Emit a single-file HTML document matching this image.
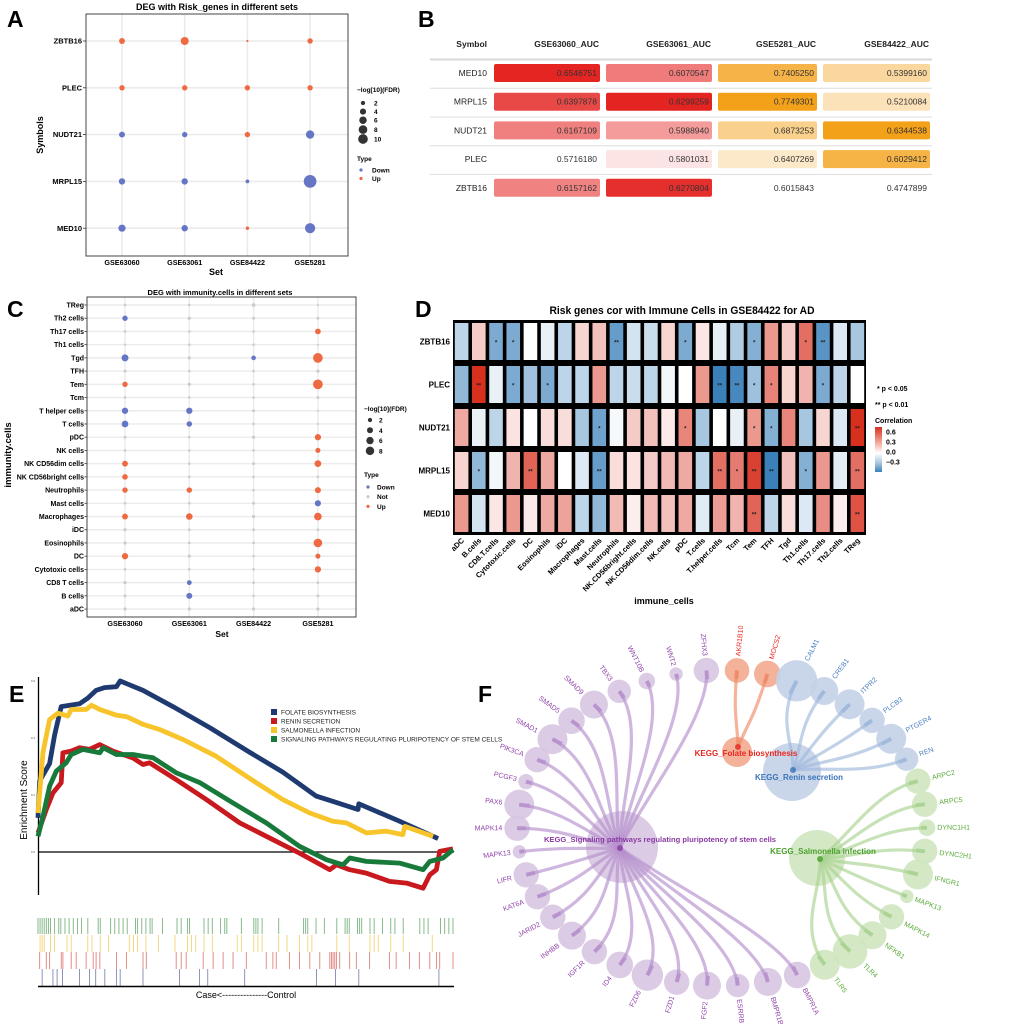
<!DOCTYPE html>
<html><head><meta charset="utf-8"><style>
html,body{margin:0;padding:0;background:#fff;}
svg{display:block;font-family:"Liberation Sans",Arial,sans-serif;}
.b{font-weight:bold;}
</style></head><body>
<svg id="fig" width="1020" height="1024" viewBox="0 0 1020 1024" xmlns="http://www.w3.org/2000/svg">
<rect width="1020" height="1024" fill="#fff"/>
<text x="7" y="27" font-size="23" class="b">A</text>
<text x="418" y="27" font-size="23" class="b">B</text>
<text x="7" y="317" font-size="23" class="b">C</text>
<text x="415" y="317" font-size="23" class="b">D</text>
<text x="9" y="702" font-size="23" class="b">E</text>
<text x="478" y="702" font-size="23" class="b">F</text>

<g id="pa">
<text x="217" y="10" font-size="9" class="b" text-anchor="middle">DEG with Risk_genes in different sets</text>
<text x="216" y="275" font-size="9" class="b" text-anchor="middle">Set</text>
<text transform="translate(43,135) rotate(-90)" font-size="9" class="b" text-anchor="middle">Symbols</text>
<text x="357" y="92" font-size="6.5" class="b">−log[10](FDR)</text>
<text x="357" y="161" font-size="6.5" class="b">Type</text>
</g>
<g id="pb"></g>
<g id="pc">
<text x="220" y="295" font-size="7.5" class="b" text-anchor="middle">DEG with immunity.cells in different sets</text>
<text x="222" y="637" font-size="8.5" class="b" text-anchor="middle">Set</text>
<text transform="translate(11,455) rotate(-90)" font-size="9.5" class="b" text-anchor="middle">immunity.cells</text>
<text x="364" y="411" font-size="6.5" class="b">−log[10](FDR)</text>
<text x="364" y="477" font-size="6.5" class="b">Type</text>
</g>
<g id="pd">
<text x="682" y="314" font-size="11" class="b" text-anchor="middle" textLength="265" lengthAdjust="spacingAndGlyphs">Risk genes cor with Immune Cells in GSE84422 for AD</text>
<text x="664" y="604" font-size="9" class="b" text-anchor="middle">immune_cells</text>
<text x="877" y="391" font-size="7" class="b">* p &lt; 0.05</text>
<text x="875" y="407" font-size="7" class="b">** p &lt; 0.01</text>
<text x="875" y="423" font-size="7" class="b">Correlation</text>
</g>
<g id="pe">
<text transform="translate(27,800) rotate(-90)" font-size="10" text-anchor="middle">Enrichment Score</text>
<text x="246" y="998" font-size="9" text-anchor="middle">Case&lt;---------------Control</text>
</g>
<g id="pf"></g>
</svg>
<script>
const NS='http://www.w3.org/2000/svg';
function mk(tag,attrs,parent){const e=document.createElementNS(NS,tag);for(const k in attrs)e.setAttribute(k,attrs[k]);parent.appendChild(e);return e;}
function tx(str,attrs,parent){const e=mk('text',attrs,parent);e.textContent=str;return e;}
function hex(c){return [parseInt(c.slice(1,3),16),parseInt(c.slice(3,5),16),parseInt(c.slice(5,7),16)];}
function mix(a,b,t){t=Math.max(0,Math.min(1,t));const A=hex(a),B=hex(b);return 'rgb('+A.map((v,i)=>Math.round(v+(B[i]-v)*t)).join(',')+')';}
const UP='#ee6a43',DOWN='#6576c4',NOT='#cccccc';

const aGenes=['ZBTB16','PLEC','NUDT21','MRPL15','MED10'];
const aSets=['GSE63060','GSE63061','GSE84422','GSE5281'];
const aValues=[[3,5.5,0.4,2.5],[2.5,2.5,2.5,2.5],[3,2.5,2.5,6],[3.5,3.5,1.2,14],[4.5,3.5,1,9]];
const aTypes=[['Up','Up','Up','Up'],['Up','Up','Up','Up'],['Down','Down','Up','Down'],['Down','Down','Down','Down'],['Down','Down','Up','Down']];
const aSizeLegend=[2,4,6,8,10];

const bGenes=['MED10','MRPL15','NUDT21','PLEC','ZBTB16'];
const bCols=['GSE63060_AUC','GSE63061_AUC','GSE5281_AUC','GSE84422_AUC'];
const bValues=[[0.6546751,0.6070547,0.7405250,0.5399160],[0.6397878,0.6299259,0.7749301,0.5210084],[0.6167109,0.5988940,0.6873253,0.6344538],[0.5716180,0.5801031,0.6407269,0.6029412],[0.6157162,0.6270804,0.6015843,0.4747899]];

const cCells=['TReg','Th2 cells','Th17 cells','Th1 cells','Tgd','TFH','Tem','Tcm','T helper cells','T cells','pDC','NK cells','NK CD56dim cells','NK CD56bright cells','Neutrophils','Mast cells','Macrophages','iDC','Eosinophils','DC','Cytotoxic cells','CD8 T cells','B cells','aDC'];
const cSets=['GSE63060','GSE63061','GSE84422','GSE5281'];
const cTypes=['NNNN','DNNN','NNNU','NNNN','DNDU','NNNN','UNNU','NNNN','DDNN','DDNN','NNNU','NNNU','UNNU','UNNN','UUNU','NNND','UUNU','NNNN','NNNU','UNNU','NNNU','NDNN','NDNN','NNNN'];
const cValues=[[0.8,0.8,1.6,0.5],[3.2,1.2,1,1],[0.8,0.8,0.8,3.6],[0.6,0.8,0.8,0.5],[5.4,1.2,2.4,10.5],[1,0.8,0.8,1.2],[3.2,1.2,0.8,10.5],[0.8,0.8,0.8,1],[4.4,4.4,1,0.5],[5,3.4,0.8,0.5],[1,0.8,1.2,4.4],[0.8,0.8,0.8,2.8],[3.8,0.8,1,5],[3.4,0.8,0.8,0.8],[3.2,3.4,0.8,4],[0.8,0.8,1,4.2],[3.8,4.8,1.2,6.5],[1.2,0.8,0.8,0.8],[1.2,0.8,0.8,8.2],[4.4,1.2,0.8,2.8],[0.8,0.8,0.8,4.4],[1.2,2.6,0.8,0.8],[1,4,0.8,1],[1.2,1.2,1.2,1.2]];
const cSizeLegend=[2,4,6,8];

const dGenes=['ZBTB16','PLEC','NUDT21','MRPL15','MED10'];
const dCells=['aDC','B.cells','CD8.T.cells','Cytotoxic.cells','DC','Eosinophils','iDC','Macrophages','Mast.cells','Neutrophils','NK.CD56bright.cells','NK.CD56dim.cells','NK.cells','pDC','T.cells','T.helper.cells','Tcm','Tem','TFH','Tgd','Th1.cells','Th17.cells','Th2.cells','TReg'];
const dCor=[
[-0.15,0.15,-0.3,-0.3,0,-0.05,-0.15,0.12,0.18,-0.35,-0.1,-0.12,0.12,-0.3,0.07,-0.05,-0.18,-0.28,0.3,0.15,0.42,-0.38,-0.08,-0.2],
[-0.25,0.6,-0.05,-0.3,-0.22,-0.3,-0.15,-0.15,0.3,-0.15,-0.12,-0.15,-0.03,0,0.3,-0.45,-0.42,-0.22,0.36,0.12,0.22,-0.3,-0.15,0],
[0.25,-0.05,-0.15,0.08,0,0.1,0.1,-0.2,-0.33,-0.02,0.15,0.18,0.06,0.35,-0.2,0,-0.05,0.3,-0.28,0.35,-0.2,0.12,-0.08,0.6],
[0.12,-0.25,-0.03,0.22,0.45,0.25,0,-0.08,-0.35,0.1,0.08,0.15,0.2,0.25,-0.15,0.42,0.38,0.55,-0.45,0.18,-0.28,0.3,-0.06,0.42],
[0.3,-0.1,0.07,0.3,0.06,0.25,0.27,-0.15,-0.25,0.2,0.05,0.2,0.18,0.25,-0.07,0.28,0.22,0.45,-0.15,0.1,-0.08,0.33,0.05,0.5]];
const dSig=[
['','','*','*','','','','','','**','','','','*','','','','*','','','*','**','',''],
['','**','','*','','*','','','','','','','','','','**','**','*','*','','','*','',''],
['','','','','','','','','*','','','','','*','','','','*','*','','','','','**'],
['','*','','','**','','','','**','','','','','','','**','*','**','**','','*','','','**'],
['','','','','','','','','','','','','','','','','','**','','','','','','**']];
const dLegendTicks=[0.6,0.3,0.0,-0.3];

const eNames=['FOLATE BIOSYNTHESIS','RENIN SECRETION','SALMONELLA INFECTION','SIGNALING PATHWAYS REGULATING PLURIPOTENCY OF STEM CELLS'];
const eRankBlue=[0,0.4,2.8,4,5.6,10,12,14,16,18.9,19.8,25.3,32.5,41.4,51,59,67,71,77.1,77.3,87.1,96.4];
const eEsBlue=[0.12,0.25,0.31,0.41,0.51,0.52,0.54,0.567,0.577,0.58,0.6,0.567,0.51,0.436,0.35,0.28,0.196,0.178,0.149,0.169,0.108,0.047];
const eRankYellow=[0,1.2,2.8,4.8,7.2,8,11.6,12.9,14.9,18.9,21.3,25.3,29.3,34.9,42.9,52.6,59,65.5,71,74.3,79.1,83.9,87.9,88.4,95.2];
const eEsYellow=[0.137,0.35,0.465,0.487,0.477,0.5,0.5,0.515,0.5,0.48,0.475,0.448,0.43,0.395,0.336,0.243,0.184,0.137,0.108,0.102,0.067,0.073,0.061,0.09,0.055];
const eRankRed=[0,2,3.6,5.6,6,8,10,12.4,14.9,18.1,22.9,25.3,26.9,33.3,40.6,48.6,55,63,70.3,71.9,75.1,79.1,84.7,88.8,92.8,94.4,96,96.8,100];
const eEsRed=[0.067,0.149,0.207,0.243,0.348,0.354,0.366,0.36,0.377,0.354,0.33,0.307,0.313,0.254,0.184,0.102,0.055,-0.004,-0.062,-0.045,-0.062,-0.074,-0.103,-0.109,-0.127,-0.08,-0.062,0.002,0.011];
const eRankGreen=[0,1.2,2.8,4.4,6.8,8,10.8,14.9,15.7,18.9,22.9,25.3,27.7,33.3,39,47,55,63,69.5,73.5,75.1,79.1,87.1,92.8,94.4,97.6,100];
const eEsGreen=[0.055,0.125,0.231,0.284,0.313,0.342,0.36,0.348,0.366,0.342,0.342,0.336,0.331,0.278,0.243,0.172,0.102,0.02,-0.027,-0.045,-0.021,-0.033,-0.039,-0.062,-0.033,-0.021,0.008];
const eHitsGreen=[0,0.5,1,1.5,2,2.5,3,4,5,5.5,6.5,7.5,8.5,9.5,10.5,12,14.5,15,17.5,18.5,19.5,20.5,21.5,23.5,24,25,26,27,27.5,30,33.5,34.5,36,36.5,40,41,42,44,45,45.5,49,52,52.5,53,54,58,64,64.5,65,67,69,72,74,74.5,75,77,77.5,78,80,81,83,85,86,88,92,93,94,97,98,99,100];
const eHitsYellow=[0.5,1,1.5,3,4,7,8,12,13,15,17,22,23,24,26,29,33,36,37,38,40,42,48,49,52,53,54,58,60,63,65,66,72,75,80,81,82,85,88,95];
const eHitsRed=[0.4,2,2.8,5.6,6,8,9.2,11.6,13.3,14,14.9,18.9,21.3,25.3,26.1,33.3,34.5,35.7,39.8,42.2,44.6,47,50.2,55,56.6,57.4,60.6,63,65.5,67.9,70.3,70.7,71.1,71.5,71.9,72.7,75.1,76.7,79.9,84.7,86.3,89.5,91.9,94.4,96,96.8,100];
const eHitsBlue=[1,3.6,4.6,5.9,10,12.4,13.9,16.1,18.9,19.8,25.3,34.1,38.9,40.9,49.8,67.1,71.7,77.3,96.6];
const eYTicks=[0.6,0.4,0.2,0.0];

const fGenes=['AKR1B10','MOCS2','CALM1','CREB1','ITPR2','PLCB3','PTGER4','REN','ARPC2','ARPC5','DYNC1H1','DYNC2H1','IFNGR1','MAPK13','MAPK14','NFKB1','TLR4','TLR5','BMPR1A','BMPR1B','ESRRB','FGF2','FZD1','FZD6','ID4','IGF1R','INHBB','JARID2','KAT6A','LIFR','MAPK13','MAPK14','PAX6','PCGF3','PIK3CA','SMAD1','SMAD5','SMAD9','TBX3','WNT10B','WNT2','ZFHX3'];
const fGroup=['fol','fol','ren','ren','ren','ren','ren','ren','sal','sal','sal','sal','sal','sal','sal','sal','sal','sal','sig','sig','sig','sig','sig','sig','sig','sig','sig','sig','sig','sig','sig','sig','sig','sig','sig','sig','sig','sig','sig','sig','sig','sig'];
const fSize=[12.3,13.3,20.7,14,15,12.7,15,11.7,12.7,12.7,8.3,12.7,15,6.7,12.7,14,17.3,15,13.3,14,11.7,14,12.7,15.7,13.3,12.7,14,12.7,12.7,12.7,6.7,12.7,15,7.7,12.7,15,13.3,14,11.7,8.3,6.7,12.7];
const fHubs=[
 {id:'sig',label:'KEGG_Signaling pathways regulating pluripotency of stem cells',x:622,y:847,r:36,fx:620,fy:848,lx:660,ly:842},
 {id:'fol',label:'KEGG_Folate biosynthesis',x:737,y:752,r:15,fx:738,fy:747,lx:746,ly:756},
 {id:'ren',label:'KEGG_Renin secretion',x:792,y:772,r:29,fx:793,fy:770,lx:799,ly:780},
 {id:'sal',label:'KEGG_Salmonella infection',x:817,y:858,r:28,fx:820,fy:859,lx:823,ly:854}];
const fColor={sig:{fill:'#d7c5e2',edge:'#b68fcc',text:'#9144ab',hub:'#8a3aa2'},fol:{fill:'#f2aa8e',edge:'#ef8a66',text:'#e8271f',hub:'#e8271f'},ren:{fill:'#c3d2e8',edge:'#9fb8dc',text:'#4a7fc2',hub:'#3a74b8'},sal:{fill:'#cfe5c0',edge:'#a9d391',text:'#5aab3a',hub:'#4aa02c'}};

(function(){
 const g=document.getElementById('pa');
 const x=i=>122+i*62.7, y=j=>41+j*46.8, r=v=>1.7*Math.sqrt(v);
 const box={x:86,y:14,w:262,h:242};
 aSets.forEach((s,i)=>{const l=mk('line',{x1:x(i),x2:x(i),y1:box.y,y2:box.y+box.h,stroke:'#ebebeb','stroke-width':1.6},g);
  
  
  const t=tx(s,{x:x(i),y:265,'font-size':7.2,'font-weight':'bold','text-anchor':'middle'},g);
  
  });
 aGenes.forEach((s,j)=>{const l=mk('line',{x1:box.x,x2:box.x+box.w,y1:y(j),y2:y(j),stroke:'#ebebeb','stroke-width':1.6},g);
  
  
  const tk=mk('line',{x1:box.x-3,x2:box.x,y1:y(j),y2:y(j),stroke:'#333','stroke-width':0.8},g);
  
  
  const t=tx(s,{x:box.x-4,y:y(j)+2.6,'font-size':7.5,'font-weight':'bold','text-anchor':'end'},g);
  
  });
 const fr=mk('rect',{x:box.x,y:box.y,width:box.w,height:box.h,fill:'none',stroke:'#444','stroke-width':1},g);
 
 
 aValues.forEach((row,j)=>row.forEach((v,i)=>{
  const c=mk('circle',{cx:x(i),cy:y(j),r:r(v),fill:aTypes[j][i]==='Up'?UP:DOWN},g);
  
  }));
 aSizeLegend.forEach((v,k)=>{const cy=103+k*8.6+(k>2?(k-2)*0.8:0);
  const c=mk('circle',{cx:363,cy:cy,r:r(v)*0.9,fill:'#333'},g);
  
  
  const t=tx(String(v),{x:374,y:cy+2.5,'font-size':6.5,'font-weight':'bold'},g);
  
  });
 [['Down',DOWN],['Up',UP]].forEach((d,k)=>{const cy=170+k*8.5;
  const c=mk('circle',{cx:361,cy:cy,r:1.6,fill:d[1]},g);
  
  
  const t=tx(d[0],{x:372,y:cy+2.4,'font-size':6.5,'font-weight':'bold'},g);
  
  });
})();

(function(){
 const g=document.getElementById('pb');
 const lefts=[494,606,718,823], rights=[600,712,817,930];
 const full=['#e42421','#e42421','#f4a11a','#f4a11a'];
 const lo=[0.575,0.58,0.62,0.49], hi=[0.655,0.63,0.775,0.6345];
 const rowY=j=>73+j*28.7;
 const h=tx('Symbol',{x:487,y:47,'font-size':8.5,'font-weight':'bold','text-anchor':'end',fill:'#222'},g);
 
 
 bCols.forEach((c,i)=>{const t=tx(c,{x:rights[i]-1,y:47,'font-size':8.5,'font-weight':'bold','text-anchor':'end',fill:'#222'},g);
  
  });
 const hl=mk('line',{x1:430,x2:932,y1:59.5,y2:59.5,stroke:'#d8d8d8','stroke-width':2},g);
 
 
 bGenes.forEach((gn,j)=>{
  const cy=rowY(j);
  if(j<bGenes.length-1){const l=mk('line',{x1:430,x2:932,y1:cy+15.3,y2:cy+15.3,stroke:'#dddddd','stroke-width':1},g);
   
   }
  const t=tx(gn,{x:487,y:cy+3,'font-size':8.5,'text-anchor':'end',fill:'#222'},g);
  
  
  bValues[j].forEach((v,i)=>{
   const tt=(v-lo[i])/(hi[i]-lo[i]);
   if(tt>0){const rc=mk('rect',{x:lefts[i],y:cy-9,width:rights[i]-lefts[i],height:18,rx:2,fill:mix('#ffffff',full[i],0.12+0.88*tt)},g);
    
    }
   const vt=tx(v.toFixed(7),{x:rights[i]-3,y:cy+3,'font-size':8.5,'text-anchor':'end',fill:'#333'},g);
   
   });
 });
})();

(function(){
 const g=document.getElementById('pc');
 const box={x:87,y:297,w:269,h:320};
 const x=i=>125+i*64.3, y=j=>305+j*13.22, r=v=>1.5*Math.sqrt(v);
 cSets.forEach((s,i)=>{const l=mk('line',{x1:x(i),x2:x(i),y1:box.y,y2:box.y+box.h,stroke:'#ebebeb','stroke-width':1.4},g);
  
  
  const t=tx(s,{x:x(i),y:626,'font-size':7.2,'font-weight':'bold','text-anchor':'middle'},g);
  
  });
 cCells.forEach((s,j)=>{const l=mk('line',{x1:box.x,x2:box.x+box.w,y1:y(j),y2:y(j),stroke:'#ebebeb','stroke-width':1.4},g);
  
  
  const tk=mk('line',{x1:box.x-2.5,x2:box.x,y1:y(j),y2:y(j),stroke:'#333','stroke-width':0.8},g);
  
  
  const t=tx(s,{x:box.x-3,y:y(j)+2.5,'font-size':7,'font-weight':'bold','text-anchor':'end'},g);
  
  });
 const fr=mk('rect',{x:box.x,y:box.y,width:box.w,height:box.h,fill:'none',stroke:'#444','stroke-width':1},g);
 
 
 cValues.forEach((row,j)=>row.forEach((v,i)=>{
  const ty=cTypes[j][i];
  const c=mk('circle',{cx:x(i),cy:y(j),r:r(v),fill:ty==='U'?UP:ty==='D'?DOWN:NOT},g);
  
  }));
 cSizeLegend.forEach((v,k)=>{const cy=420+k*10.3;
  const c=mk('circle',{cx:370,cy:cy,r:r(v),fill:'#333'},g);
  
  
  const t=tx(String(v),{x:379,y:cy+2.5,'font-size':6.5,'font-weight':'bold'},g);
  
  });
 [['Down',DOWN],['Not',NOT],['Up',UP]].forEach((d,k)=>{const cy=487+k*9.7;
  const c=mk('circle',{cx:368,cy:cy,r:1.6,fill:d[1]},g);
  
  
  const t=tx(d[0],{x:377,y:cy+2.4,'font-size':6.5,'font-weight':'bold'},g);
  
  });
})();

(function(){
 const g=document.getElementById('pd');
 const X0=453,Y0=320,W=413,H=215, cw=W/dCells.length, rh=H/dGenes.length;
 const col=v=>v>=0?mix('#ffffff','#d7301f',v/0.6):mix('#ffffff','#3a80b9',-v/0.45);
 const bg=mk('rect',{x:X0,y:Y0,width:W,height:H,fill:'#000'},g);
 
 
 dGenes.forEach((gn,j)=>{
  const t=tx(gn,{x:X0-3,y:Y0+j*rh+rh/2+3,'font-size':8,'font-weight':'bold','text-anchor':'end'},g);
  
  
  dCor[j].forEach((v,i)=>{
   const rc=mk('rect',{x:X0+i*cw+1.8,y:Y0+j*rh+3,width:cw-3.6,height:rh-6,fill:col(v)},g);
   
   
   if(dSig[j][i]){const s=tx(dSig[j][i],{x:X0+i*cw+cw/2,y:Y0+j*rh+rh/2+3,'font-size':6,'font-weight':'bold','text-anchor':'middle',fill:'#222'},g);
    
    }
  });
 });
 dCells.forEach((c,i)=>{
  const cx=X0+i*cw+cw/2+3;
  const t=tx(c,{x:cx,y:541,'font-size':7.5,'font-weight':'bold','text-anchor':'end',transform:'rotate(-45 '+cx+' 541)'},g);
  
  });
 const grad=mk('linearGradient',{id:'corgrad',x1:0,y1:0,x2:0,y2:1},g);
 [['0%','#d7301f'],['38%','#f4b6a6'],['58%','#ffffff'],['80%','#a8c6e0'],['100%','#3a80b9']].forEach(s=>{mk('stop',{offset:s[0],'stop-color':s[1]},grad);});
 const bar=mk('rect',{x:875,y:427,width:7,height:45,fill:'url(#corgrad)'},g);
 
 
 dLegendTicks.forEach(v=>{const yy=452-v*33;
  const t=tx((v<0?'−':'')+Math.abs(v).toFixed(1),{x:886,y:yy+2.5,'font-size':7,'font-weight':'bold'},g);
  
  });
})();

(function(){
 const g=document.getElementById('pe');
 const x=p=>38+p*4.15, y=es=>852-es*285;
 const ax=mk('line',{x1:38.5,x2:38.5,y1:677,y2:895,stroke:'#000','stroke-width':1.3},g);
 
 
 eYTicks.forEach(v=>{const t=tx(v.toFixed(1),{x:35,y:y(v)+1,'font-size':3,'text-anchor':'end',fill:'#555'},g);
  
  });
 const zl=mk('line',{x1:38,x2:454,y1:y(0),y2:y(0),stroke:'#000','stroke-width':1.2},g);
 
 
 const series=[[eRankBlue,eEsBlue,'#1f3a70','folate'],[eRankYellow,eEsYellow,'#f7c52b','salmonella'],[eRankRed,eEsRed,'#c8191e','renin'],[eRankGreen,eEsGreen,'#17793a','signaling']];
 series.forEach(s=>{const d=s[0].map((p,k)=>(k?'L':'M')+x(p).toFixed(1)+','+y(s[1][k]).toFixed(1)).join('');
  const pth=mk('path',{d:d,fill:'none',stroke:s[2],'stroke-width':4.8,'stroke-linejoin':'round'},g);
  
  });
 const legCols=['#1f3a70','#c8191e','#f7c52b','#17793a'];
 eNames.forEach((n,k)=>{const yy=712+k*9;
  const sq=mk('rect',{x:271,y:yy-3,width:6,height:6,fill:legCols[k]},g);
  
  
  const t=tx(n,{x:281,y:yy+2.3,'font-size':6.6,fill:'#222',textLength:n.length*3.95,lengthAdjust:'spacingAndGlyphs'},g);
  
  });
 const rugs=[[eHitsGreen,'#4f9a55',918,934],[eHitsYellow,'#efc44a',935,952],[eHitsRed,'#d6564f',952,969],[eHitsBlue,'#56609a',969,986]];
 rugs.forEach(rg=>rg[0].forEach(p=>{const l=mk('line',{x1:x(p),x2:x(p),y1:rg[2],y2:rg[3],stroke:rg[1],'stroke-width':0.9,opacity:0.75},g);
  
  }));
 const bl=mk('line',{x1:38,x2:454,y1:986.5,y2:986.5,stroke:'#000','stroke-width':1.5},g);
 
 
})();

(function(){
 const g=document.getElementById('pf');
 const cx=722,cy=828,rx=205,ry=158,start=-85.8,step=360/fGenes.length;
 const hubById={};fHubs.forEach(h=>hubById[h.id]=h);
 const nodes=fGenes.map((n,i)=>{const t=(start+i*step)*Math.PI/180;return {name:n,grp:fGroup[i],r:fSize[i],x:cx+rx*Math.cos(t),y:cy+ry*Math.sin(t)};});
 const eg=mk('g',{},g);
 
 
 const ng=mk('g',{},g);
 
 
 fHubs.forEach(h=>{const c=mk('circle',{cx:h.x,cy:h.y,r:h.r,fill:fColor[h.id].fill,opacity:0.9},ng);
  
  });
 nodes.forEach(nd=>{const c=mk('circle',{cx:nd.x,cy:nd.y,r:nd.r,fill:fColor[nd.grp].fill,opacity:0.9},ng);
  
  });
 g.appendChild(eg);
 nodes.forEach(nd=>{
  const h=hubById[nd.grp];
  const ang=Math.atan2(nd.y-cy,nd.x-cx), ux=Math.cos(ang), uy=Math.sin(ang);
  const c1x=h.fx+(nd.x-h.fx)*0.3, c1y=h.fy+(nd.y-h.fy)*0.3;
  const c2x=nd.x-ux*45, c2y=nd.y-uy*45;
  const p=mk('path',{d:'M'+h.fx+','+h.fy+' C'+c1x.toFixed(1)+','+c1y.toFixed(1)+' '+c2x.toFixed(1)+','+c2y.toFixed(1)+' '+nd.x.toFixed(1)+','+nd.y.toFixed(1),fill:'none',stroke:fColor[nd.grp].edge,'stroke-width':3.2,opacity:0.65},eg);
  
  
  const stub=mk('line',{x1:nd.x,y1:nd.y,x2:nd.x-ux*nd.r*0.7,y2:nd.y-uy*nd.r*0.7,stroke:fColor[nd.grp].edge,'stroke-width':4,opacity:0.8},eg);
  
  
  const lx=nd.x+ux*(nd.r+2), ly=nd.y+uy*(nd.r+2);
  let deg=ang*180/Math.PI, anchor='start';
  if(ux<0){deg+=180;anchor='end';}
  const t=tx(nd.name,{x:lx.toFixed(1),y:(ly+2).toFixed(1),'font-size':7,fill:fColor[nd.grp].text,'text-anchor':anchor,transform:'rotate('+deg.toFixed(1)+' '+lx.toFixed(1)+' '+ly.toFixed(1)+')'},g);
  
  
 });
 fHubs.forEach(h=>{
  const fan=mk('circle',{cx:h.fx,cy:h.fy,r:3,fill:fColor[h.id].hub,opacity:0.8},g);
  
  
  const t=tx(h.label,{x:h.lx,y:h.ly,'font-size':h.id==='sig'?7.6:8,'font-weight':'bold','text-anchor':'middle',fill:fColor[h.id].hub},g);
  
  });
})();
</script>
</body></html>
